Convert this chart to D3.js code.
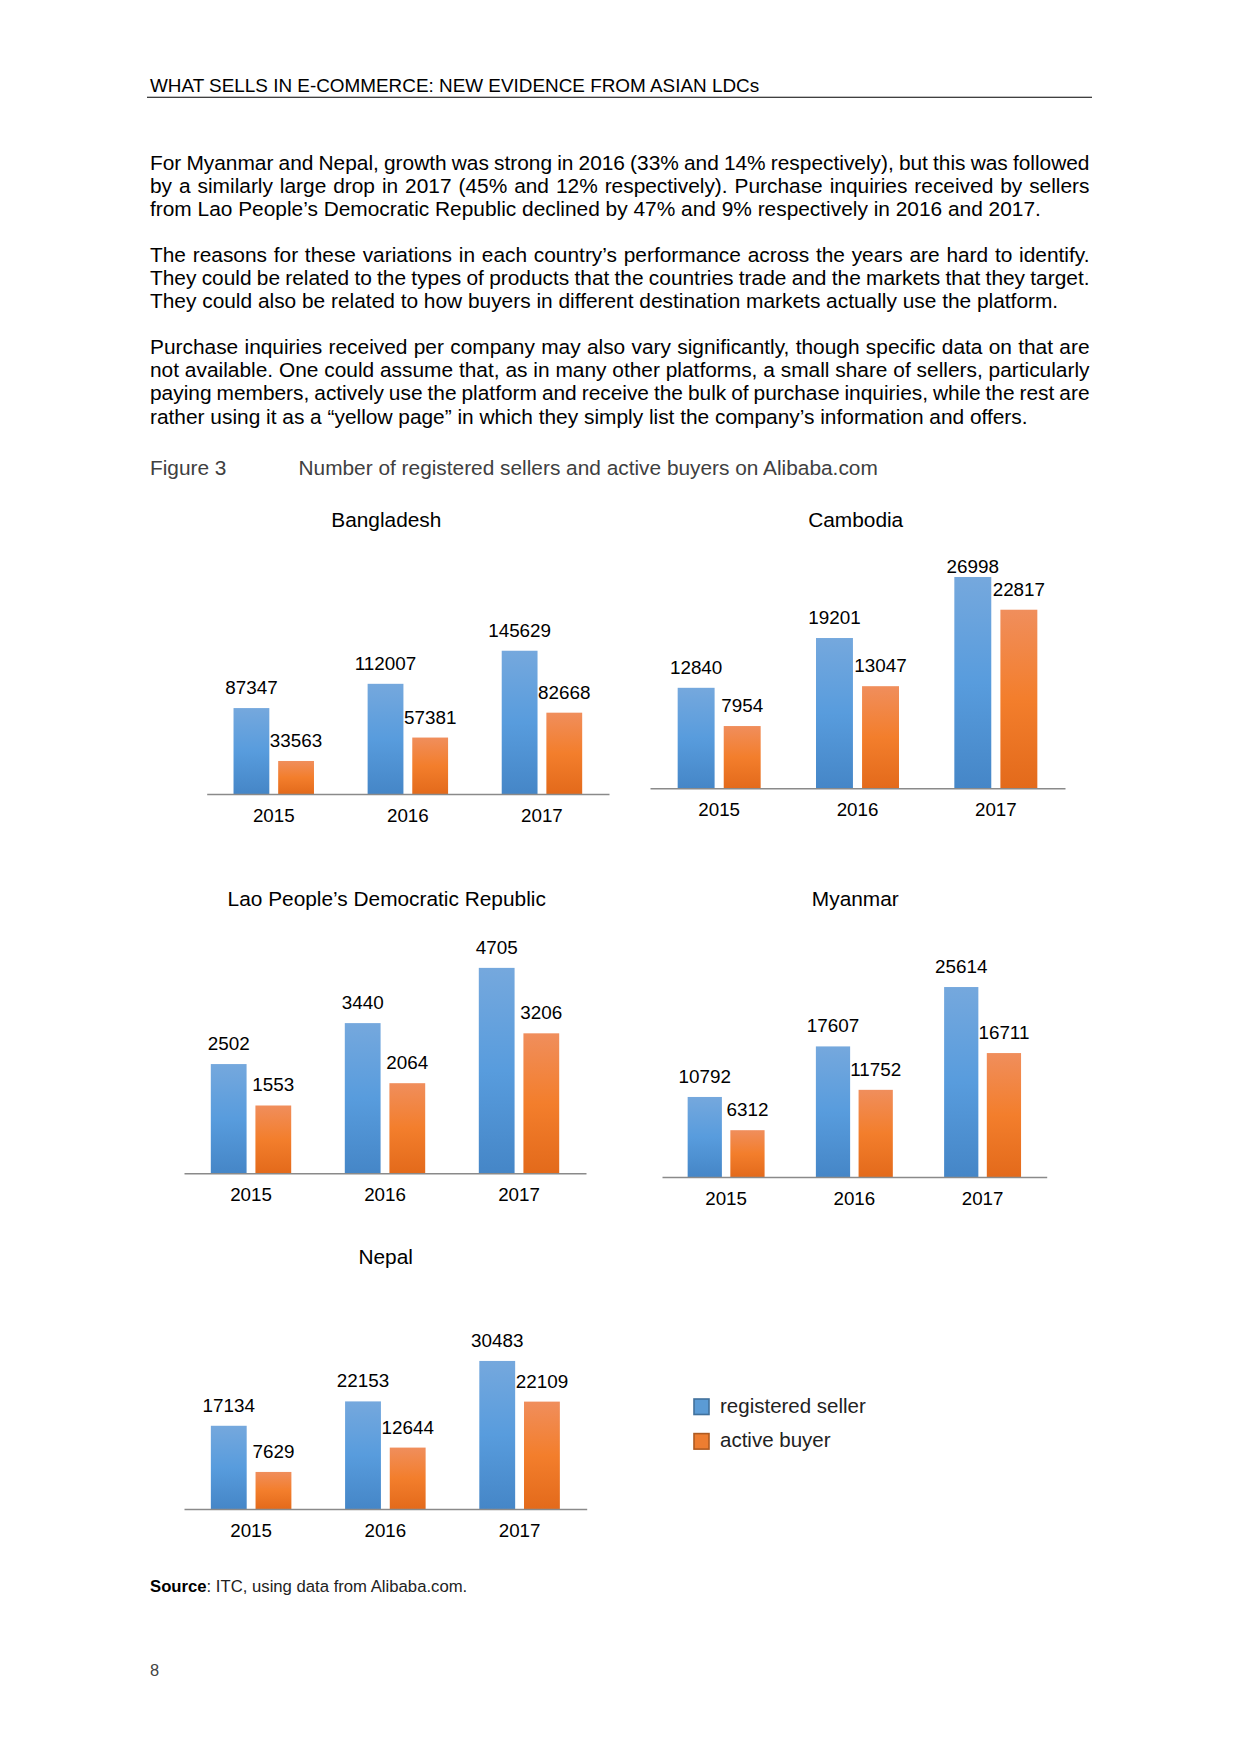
<!DOCTYPE html>
<html>
<head>
<meta charset="utf-8">
<script src="https://cdn.jsdelivr.net/npm/d3@7"></script>
<style>
  html, body { margin: 0; padding: 0; background: #fff; }
  svg { display: block; }
  text { font-family: "Liberation Sans", Arial, Helvetica, sans-serif; }
</style>
</head>
<body>
<svg id="page" width="1240" height="1754"></svg>
<script>
// ---------------- DATA ----------------
const years = ["2015", "2016", "2017"];
const countries = ["Bangladesh", "Cambodia", "Lao People’s Democratic Republic", "Myanmar", "Nepal"];
const seriesNames = ["registered seller", "active buyer"];
const sellers = [
  [87347, 112007, 145629],
  [12840, 19201, 26998],
  [2502, 3440, 4705],
  [10792, 17607, 25614],
  [17134, 22153, 30483]
];
const buyers = [
  [33563, 57381, 82668],
  [7954, 13047, 22817],
  [1553, 2064, 3206],
  [6312, 11752, 16711],
  [7629, 12644, 22109]
];
const axisMax = [160000, 30000, 5000, 30000, 35000];

const headerText = "WHAT SELLS IN E-COMMERCE: NEW EVIDENCE FROM ASIAN LDCs";
const paragraphs = [
  ["For Myanmar and Nepal, growth was strong in 2016 (33% and 14% respectively), but this was followed",
   "by a similarly large drop in 2017 (45% and 12% respectively). Purchase inquiries received by sellers",
   "from Lao People’s Democratic Republic declined by 47% and 9% respectively in 2016 and 2017."],
  ["The reasons for these variations in each country’s performance across the years are hard to identify.",
   "They could be related to the types of products that the countries trade and the markets that they target.",
   "They could also be related to how buyers in different destination markets actually use the platform."],
  ["Purchase inquiries received per company may also vary significantly, though specific data on that are",
   "not available. One could assume that, as in many other platforms, a small share of sellers, particularly",
   "paying members, actively use the platform and receive the bulk of purchase inquiries, while the rest are",
   "rather using it as a “yellow page” in which they simply list the company’s information and offers."]
];
const figureLabel = "Figure 3";
const figureTitle = "Number of registered sellers and active buyers on Alibaba.com";
const sourceBold = "Source";
const sourceRest = ": ITC, using data from Alibaba.com.";
const pageNumber = "8";

// ---------------- LAYOUT ----------------
const layout = [
  { x0: 206.7, x1: 609,    axisY: 794,    plotTop: 636.6, titleX: 386.3, titleY: 527 },
  { x0: 650,   x1: 1065,   axisY: 788.3,  plotTop: 553.5, titleX: 855.7, titleY: 527 },
  { x0: 184,   x1: 586,    axisY: 1173.3, plotTop: 955,   titleX: 386.7, titleY: 906 },
  { x0: 662,   x1: 1046.7, axisY: 1177,   plotTop: 954.5, titleX: 855.3, titleY: 906 },
  { x0: 184,   x1: 586.7,  axisY: 1509,   plotTop: 1339,  titleX: 385.7, titleY: 1264.3 }
];

const svg = d3.select("#page");
svg.append("rect").attr("width", 1240).attr("height", 1754).attr("fill", "#fff");

// gradients
const defs = svg.append("defs");
function grad(id, stops) {
  const g = defs.append("linearGradient").attr("id", id)
    .attr("x1", 0).attr("y1", 0).attr("x2", 0).attr("y2", 1);
  stops.forEach(s => g.append("stop").attr("offset", s[0]).attr("stop-color", s[1]));
}
grad("gBlue", [[0, "#75a8dd"], [0.5, "#589cdd"], [1, "#4586c7"]]);
grad("gOrange", [[0, "#f08e5c"], [0.5, "#f37e2c"], [1, "#e36a1b"]]);
const fills = ["url(#gBlue)", "url(#gOrange)"];

// ---------------- HEADER ----------------
svg.append("text").attr("x", 150).attr("y", 91.7)
  .attr("font-size", 18.9).attr("fill", "#000").text(headerText);
svg.append("line").attr("x1", 147).attr("x2", 1092).attr("y1", 97.3).attr("y2", 97.3)
  .attr("stroke", "#000").attr("stroke-width", 1.1);

// ---------------- BODY TEXT ----------------
const bodyLeft = 150, bodyRight = 1089.5, lineH = 23.1;
const paraStart = [169.5, 261.8, 354.2];
paragraphs.forEach((lines, pi) => {
  lines.forEach((ln, li) => {
    const t = svg.append("text").attr("x", bodyLeft).attr("y", paraStart[pi] + li * lineH)
      .attr("font-size", 20.88).attr("fill", "#000").text(ln);
    if (li < lines.length - 1) {
      const nat = t.node().getComputedTextLength();
      const spaces = (ln.match(/ /g) || []).length;
      const ws = (bodyRight - bodyLeft - nat) / spaces;
      t.style("word-spacing", ws + "px");
    }
  });
});

// ---------------- FIGURE CAPTION ----------------
svg.append("text").attr("x", 150).attr("y", 475).attr("font-size", 20.85)
  .attr("fill", "#404040").text(figureLabel);
svg.append("text").attr("x", 298.5).attr("y", 475).attr("font-size", 20.85)
  .attr("fill", "#404040").text(figureTitle);

// ---------------- CHARTS ----------------
countries.forEach((name, ci) => {
  const L = layout[ci];
  const g = svg.append("g");
  const x = d3.scaleBand().domain(years).range([L.x0, L.x1]).padding(0);
  const bw = x.bandwidth();
  const xs = d3.scaleBand().domain(seriesNames)
    .range([bw * 0.2, bw * 0.8]).paddingInner(0.198).paddingOuter(0);
  const y = d3.scaleLinear().domain([0, axisMax[ci]]).range([L.axisY, L.plotTop]);

  g.append("text").attr("x", L.titleX).attr("y", L.titleY).attr("text-anchor", "middle")
    .attr("font-size", 20.85).attr("fill", "#000").text(name);

  const rows = [];
  years.forEach((yr, i) => {
    rows.push({ yr, s: seriesNames[0], v: sellers[ci][i], k: 0 });
    rows.push({ yr, s: seriesNames[1], v: buyers[ci][i], k: 1 });
  });

  g.selectAll("rect.bar").data(rows).enter().append("rect")
    .attr("class", "bar")
    .attr("x", d => x(d.yr) + xs(d.s))
    .attr("width", xs.bandwidth())
    .attr("y", d => y(d.v))
    .attr("height", d => y(0) - y(d.v))
    .attr("fill", d => fills[d.k]);

  // axis line via d3 axis
  const axis = d3.axisBottom(x).tickSize(0).tickPadding(0);
  const ag = g.append("g").attr("transform", `translate(0,${L.axisY})`).call(axis);
  ag.select(".domain").attr("stroke", "#8a8a8a").attr("stroke-width", 1.5);
  ag.selectAll(".tick text").attr("font-size", 18.75).attr("fill", "#000")
    .attr("font-family", "\"Liberation Sans\", Arial, sans-serif")
    .attr("dy", null).attr("y", 28);

  // data labels
  const minY = L.titleY + 46;
  g.selectAll("text.lbl").data(rows).enter().append("text")
    .attr("class", "lbl")
    .attr("x", d => x(d.yr) + xs(d.s) + xs.bandwidth() / 2)
    .attr("y", d => Math.max(y(d.v) - 14, minY))
    .attr("text-anchor", "middle")
    .attr("font-size", 18.85).attr("fill", "#000")
    .text(d => d3.format("d")(d.v));
});

// ---------------- LEGEND ----------------
const legendFill = ["#5b9bd5", "#ed7d31"];
const legendStroke = ["#41719c", "#ae5a21"];
const lg = svg.append("g");
seriesNames.forEach((s, i) => {
  const yy = 1399 + i * 34.6;
  lg.append("rect").attr("x", 694).attr("y", yy).attr("width", 15).attr("height", 15.5)
    .attr("fill", legendFill[i]).attr("stroke", legendStroke[i]).attr("stroke-width", 1.6);
  lg.append("text").attr("x", 720).attr("y", yy + 13.5).attr("font-size", 20.5)
    .attr("fill", "#222").text(s);
});

// ---------------- SOURCE & PAGE ----------------
const src = svg.append("text").attr("x", 150).attr("y", 1592.3).attr("font-size", 16.7).attr("fill", "#000");
src.append("tspan").attr("font-weight", "bold").text(sourceBold);
src.append("tspan").attr("fill", "#222").text(sourceRest);
svg.append("text").attr("x", 150).attr("y", 1676).attr("font-size", 16.4)
  .attr("fill", "#444").text(pageNumber);
</script>
</body>
</html>
